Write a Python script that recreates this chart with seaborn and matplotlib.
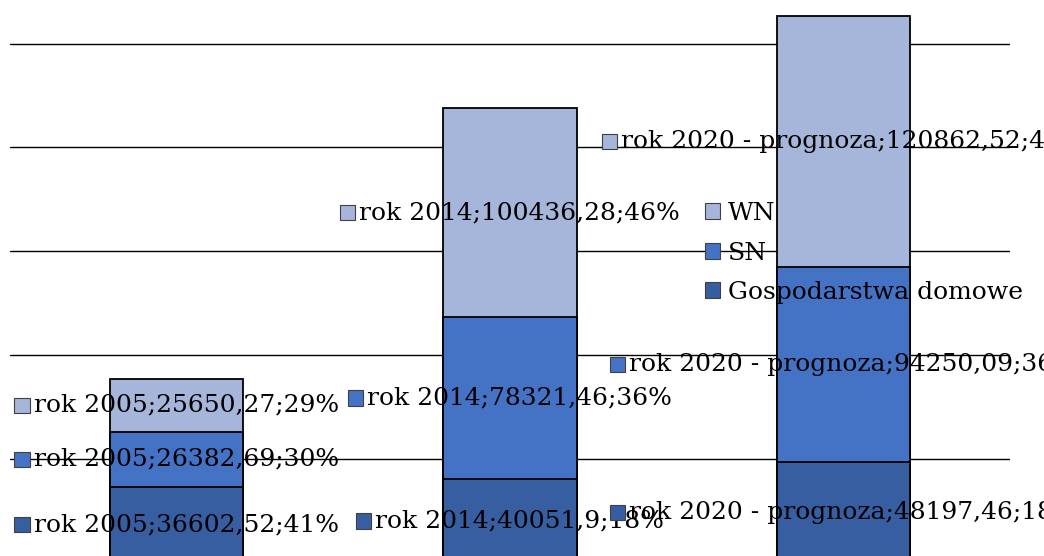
"""Struktura odbiorcow - wykres skumulowany (rok 2005, 2014, 2020 prognoza)."""

import matplotlib
matplotlib.use("Agg")

import matplotlib.pyplot as plt
import pandas as pd
import seaborn as sns
from matplotlib.offsetbox import AnnotationBbox, DrawingArea, HPacker, TextArea
from matplotlib.patches import Patch, Rectangle

categories = ["rok 2005", "rok 2014", "rok 2020 - prognoza"]
series_names = ["Gospodarstwa domowe", "SN", "WN"]
gospodarstwa = [36602.52, 40051.90, 48197.46]
sn_values = [26382.69, 78321.46, 94250.09]
wn_values = [25650.27, 100436.28, 120862.52]
colors = {"Gospodarstwa domowe": "#375EA1", "SN": "#4472C4", "WN": "#A6B5DA"}
grid_ticks = [50000, 100000, 150000, 200000, 250000]

FONT = "DejaVu Serif"
FS = 18

df = pd.DataFrame({
    "kategoria": categories,
    "Gospodarstwa domowe": gospodarstwa,
    "SN": sn_values,
    "WN": wn_values,
})
df["total"] = df[series_names].sum(axis=1)
df["cum_dom"] = df["Gospodarstwa domowe"]
df["cum_sn"] = df["cum_dom"] + df["SN"]
df["cum_wn"] = df["cum_sn"] + df["WN"]

sns.set_style("white")
plt.rcParams["font.family"] = [FONT]

fig = plt.figure(figsize=(10.44, 5.56), dpi=100)
ax = fig.add_axes([10 / 1044, 0, 1000 / 1044, 1])

for col, name in [("cum_wn", "WN"), ("cum_sn", "SN"), ("cum_dom", "Gospodarstwa domowe")]:
    sns.barplot(data=df, x="kategoria", y=col, order=categories, color=colors[name],
                width=0.4, edgecolor="black", linewidth=1.3, saturation=1, ax=ax, zorder=2)

ax.set_xlim(-0.5, 2.5)
ax.set_ylim(3130, 271070)
ax.set_yticks(grid_ticks)
ax.yaxis.grid(True, color="black", linewidth=1)
ax.set_axisbelow(True)
ax.tick_params(left=False, bottom=False, labelleft=False, labelbottom=False)
ax.set_xlabel("")
ax.set_ylabel("")
for spine in ax.spines.values():
    spine.set_visible(False)


def fmt_value(v):
    return str(round(v, 2)).replace(".", ",")


bottoms = {"Gospodarstwa domowe": [0, 0, 0], "SN": list(df["cum_dom"]), "WN": list(df["cum_sn"])}
for name in series_names:
    vals = df[name].tolist()
    for i, cat in enumerate(categories):
        pct = round(vals[i] / df["total"][i] * 100)
        label = f"{cat};{fmt_value(vals[i])};{pct}%"
        square = DrawingArea(11, 11, 0, 0)
        square.add_artist(Rectangle((0, 0), 11, 11, facecolor=colors[name], edgecolor="#404040", linewidth=0.8))
        text = TextArea(label, textprops=dict(fontsize=FS, family=FONT, color="black"))
        box = HPacker(children=[square, text], align="center", pad=0, sep=3)
        ab = AnnotationBbox(box, (i, bottoms[name][i] + vals[i] / 2), xycoords="data",
                            box_alignment=(0.5, 0.5), frameon=False, pad=0, annotation_clip=False,
                            zorder=5)
        ax.add_artist(ab)

handles = [Patch(facecolor=colors[n], edgecolor="#404040", linewidth=0.8) for n in reversed(series_names)]
fig.legend(handles, list(reversed(series_names)), loc="upper left",
           bbox_to_anchor=(705 / 1044, 1 - 202 / 556), frameon=False, borderpad=0, borderaxespad=0,
           handlelength=0.6, handleheight=0.6, handletextpad=0.3, labelspacing=0.66,
           labelcolor="black", prop={"family": FONT, "size": FS})

fig.savefig("out.png", dpi=100)
plt.close(fig)
